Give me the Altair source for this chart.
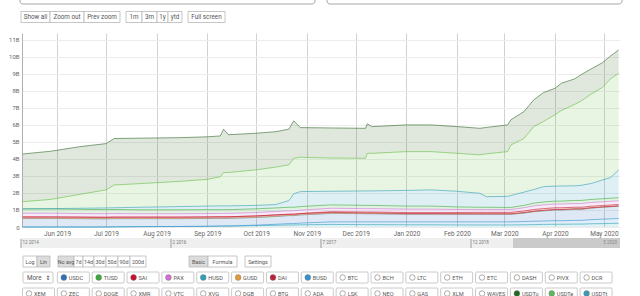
import altair as alt
import pandas as pd

# ---------------- data (billions USD) ----------------
dates = ["2019-05-11", "2019-05-28", "2019-06-15", "2019-07-01", "2019-07-06", "2019-07-22",
         "2019-08-15", "2019-09-01", "2019-09-09", "2019-09-11", "2019-09-14", "2019-10-01",
         "2019-10-13", "2019-10-21", "2019-10-24", "2019-10-28", "2019-11-16", "2019-12-07",
         "2019-12-08", "2019-12-11", "2020-01-01", "2020-01-16", "2020-02-01", "2020-02-15",
         "2020-02-19", "2020-03-03", "2020-03-05", "2020-03-13", "2020-03-19", "2020-03-25",
         "2020-04-01", "2020-04-05", "2020-04-13", "2020-04-17", "2020-04-23", "2020-04-30",
         "2020-05-05", "2020-05-10"]

HUSD = [0, 0, 0, 0, 0.01, 0.02, 0.03, 0.04, 0.05, 0.05, 0.05, 0.08, 0.10, 0.12, 0.12, 0.13,
        0.15, 0.14, 0.14, 0.14, 0.13, 0.13, 0.12, 0.12, 0.12, 0.12, 0.12, 0.13, 0.14, 0.15,
        0.16, 0.16, 0.17, 0.17, 0.19, 0.20, 0.21, 0.22]
BUSD = [0, 0, 0, 0, 0, 0, 0, 0, 0.01, 0.01, 0.01, 0.03, 0.06, 0.08, 0.08, 0.10,
        0.15, 0.16, 0.16, 0.16, 0.17, 0.17, 0.18, 0.18, 0.18, 0.18, 0.18, 0.19, 0.20, 0.20,
        0.21, 0.21, 0.22, 0.22, 0.24, 0.26, 0.27, 0.28]
USDC = [0.50, 0.50, 0.49, 0.48, 0.48, 0.47, 0.46, 0.46, 0.45, 0.45, 0.45, 0.45, 0.46, 0.47, 0.47, 0.48,
        0.50, 0.48, 0.48, 0.48, 0.45, 0.45, 0.45, 0.45, 0.45, 0.45, 0.45, 0.50, 0.56, 0.60,
        0.63, 0.63, 0.65, 0.65, 0.68, 0.70, 0.71, 0.72]
GUSD = [0.01] * 38
SAI = [0.08, 0.08, 0.08, 0.08, 0.08, 0.08, 0.08, 0.08, 0.08, 0.08, 0.08, 0.08, 0.08, 0.07, 0.07, 0.07,
       0.05, 0.04, 0.04, 0.04, 0.03, 0.03, 0.02, 0.02, 0.02, 0.02, 0.02, 0.02, 0.02, 0.02,
       0.02, 0.02, 0.02, 0.02, 0.01, 0.01, 0.01, 0.01]
DAI = [0, 0, 0, 0, 0, 0, 0, 0, 0, 0, 0, 0, 0, 0, 0, 0,
       0.04, 0.05, 0.05, 0.05, 0.06, 0.06, 0.07, 0.08, 0.08, 0.08, 0.08, 0.09, 0.10, 0.10,
       0.10, 0.10, 0.09, 0.09, 0.09, 0.08, 0.08, 0.08]
PAX = [0.22, 0.22, 0.21, 0.21, 0.21, 0.20, 0.20, 0.20, 0.20, 0.20, 0.20, 0.20, 0.20, 0.20, 0.20, 0.20,
       0.20, 0.20, 0.20, 0.20, 0.20, 0.20, 0.18, 0.17, 0.17, 0.17, 0.17, 0.19, 0.21, 0.22,
       0.22, 0.22, 0.22, 0.22, 0.22, 0.22, 0.22, 0.22]
TUSD = [0.25, 0.25, 0.25, 0.24, 0.24, 0.23, 0.23, 0.23, 0.22, 0.22, 0.22, 0.22, 0.21, 0.21, 0.21, 0.21,
        0.20, 0.19, 0.19, 0.19, 0.18, 0.18, 0.15, 0.13, 0.13, 0.12, 0.12, 0.14, 0.16, 0.17,
        0.17, 0.17, 0.18, 0.18, 0.18, 0.18, 0.18, 0.18]
USDTt = [0.01, 0.02, 0.06, 0.10, 0.10, 0.15, 0.19, 0.21, 0.22, 0.22, 0.22, 0.20, 0.20, 0.39, 0.79, 0.88,
         0.80, 0.85, 0.85, 0.85, 0.92, 0.95, 0.92, 0.82, 0.62, 0.65, 0.70, 0.78, 0.80, 0.90,
         0.88, 0.89, 0.86, 0.89, 0.93, 1.10, 1.21, 1.63]
USDTe = [0.42, 0.54, 0.82, 1.06, 1.34, 1.39, 1.48, 1.57, 1.71, 1.96, 1.96, 2.09, 2.20, 2.10, 2.09, 2.02,
         1.95, 1.92, 2.21, 2.21, 2.28, 2.25, 2.23, 2.26, 2.52, 2.63, 2.97, 3.15, 3.70, 3.83,
         4.20, 4.44, 4.78, 4.95, 5.25, 5.44, 5.80, 5.69]
USDTo = [2.80, 2.83, 2.80, 2.72, 2.73, 2.67, 2.57, 2.50, 2.40, 2.55, 2.22, 2.15, 2.08, 2.10, 2.20, 1.74,
         1.77, 1.76, 1.73, 1.57, 1.57, 1.57, 1.57, 1.56, 1.55, 1.57, 1.48, 1.58, 1.57, 1.70,
         1.55, 1.60, 1.50, 1.55, 1.48, 1.45, 1.35, 1.36]

series = ["HUSD", "BUSD", "USDC", "GUSD", "SAI", "DAI", "PAX", "TUSD", "USDTt", "USDTe", "USDTo"]
series_values = [HUSD, BUSD, USDC, GUSD, SAI, DAI, PAX, TUSD, USDTt, USDTe, USDTo]
series_colors = ["#33a6b8", "#3b95d1", "#3a78c3", "#e3a24a", "#cc2233", "#c8283c", "#d07ad8",
                 "#44ad44", "#3ba3b8", "#6abf4b", "#3c6e34"]

y_ticks = list(range(0, 12))

# UI texts
top_buttons = [["Show all", "Zoom out", "Prev zoom"], ["1m", "3m", "1y", "ytd"], ["Full screen"]]
bottom_buttons = [["Log", "Lin"], ["No avg", "7d", "14d", "30d", "50d", "90d", "200d"],
                  ["Basic", "Formula"], ["Settings"]]
selected_buttons = {"Lin", "No avg", "Basic"}
coins_row1 = ["USDC", "TUSD", "SAI", "PAX", "HUSD", "GUSD", "DAI", "BUSD", "BTC", "BCH", "LTC",
              "ETH", "ETC", "DASH", "PIVX", "DCR"]
coins_row2 = ["XEM", "ZEC", "DOGE", "XMR", "VTC", "XVG", "DGB", "BTG", "ADA", "LSK", "NEO", "GAS",
              "XLM", "WAVES", "USDTo", "USDTe", "USDTt"]
coin_colors = {"USDC": "#2f6fb8", "TUSD": "#3aa83a", "SAI": "#c8102e", "PAX": "#cf6fd6",
               "HUSD": "#2f9fb5", "GUSD": "#e09a3c", "DAI": "#c0203a", "BUSD": "#3592cf",
               "USDTo": "#1f6a1f", "USDTe": "#5cb85c", "USDTt": "#3a9bb5"}
nav_labels = ["12 2014", "2 2016", "7 2017", "12 2018"]

# ---------------- layout ----------------
OX, OY = 22, 33          # plot origin on the page
W, H = 598, 194          # plot area
FONT = "Roboto"
TXT = "#555555"

rows = []
for i, (s, vals) in enumerate(zip(series, series_values)):
    for d, v in zip(dates, vals):
        rows.append({"date": d, "series": s, "value": v, "ord": i})
df = pd.DataFrame(rows)

main = alt.Chart(df).mark_area(
    fillOpacity=0.16, interpolate="linear",
    line={"strokeWidth": 0.9, "strokeOpacity": 0.7}
).encode(
    x=alt.X("date:T",
            scale=alt.Scale(domain=["2019-05-10T13:00:00", "2020-05-10T20:00:00"]),
            axis=alt.Axis(format="%b %Y", tickCount={"interval": "month", "step": 1},
                          ticks=False, domain=False, grid=True, gridColor="#d2d2d2",
                          labelFontSize=6.5, labelColor="#666", labelPadding=3,
                          labelFont=FONT, title=None)),
    y=alt.Y("value:Q", stack="zero",
            scale=alt.Scale(domain=[0, 11.4], nice=False, zero=True),
            axis=alt.Axis(values=y_ticks,
                          labelExpr="datum.value == 0 ? '0' : datum.value + 'B'",
                          ticks=False, domain=True, domainColor="#b0b0b0",
                          gridColor="#ececec", labelFontSize=6, labelColor="#666",
                          labelPadding=3, labelFont=FONT, title=None)),
    color=alt.Color("series:N", scale=alt.Scale(domain=series, range=series_colors), legend=None),
    order=alt.Order("ord:Q"),
)


def button_rows(groups, starts, widths, y0, y1):
    out = []
    for grp, start, ws in zip(groups, starts, widths):
        x = start
        for label, w in zip(grp, ws):
            out.append(dict(x0=x - OX, x1=x + w - OX, y0=y0 - OY, y1=y1 - OY,
                            xc=x + w / 2 - OX, yc=(y0 + y1) / 2 - OY, label=label,
                            fill="#dcdcdc" if label in selected_buttons else "#ffffff"))
            x += w
    return out


top_df = pd.DataFrame(button_rows(top_buttons, [21, 126, 188],
                                  [[29, 34, 36], [16, 15, 11, 14], [37]], 11.5, 22.5))
bot_df = pd.DataFrame(button_rows(bottom_buttons, [23, 58, 189, 245],
                                  [[14, 13], [16, 9, 11, 12, 12, 12, 16], [19, 29], [26]], 256, 267))
btn_df = pd.concat([top_df, bot_df])

btn_rect = alt.Chart(btn_df).mark_rect(stroke="#b8b8b8", strokeWidth=0.8).encode(
    x=alt.X("x0:Q", scale=None), x2="x1",
    y=alt.Y("y0:Q", scale=None), y2="y1",
    fill=alt.Fill("fill:N", scale=None))
btn_text_top = alt.Chart(top_df).mark_text(fontSize=6.3, color=TXT, font=FONT, baseline="middle").encode(
    x=alt.X("xc:Q", scale=None), y=alt.Y("yc:Q", scale=None), text="label:N")
btn_text_bot = alt.Chart(bot_df).mark_text(fontSize=5.4, color=TXT, font=FONT, baseline="middle").encode(
    x=alt.X("xc:Q", scale=None), y=alt.Y("yc:Q", scale=None), text="label:N")

# checkbox grid
PITCH, BW = 34.85, 32
cells = []
for r, (coins, yy) in enumerate([(coins_row1, 272), (coins_row2, 288)]):
    start_col = 1 if r == 0 else 0
    for k, c in enumerate(coins):
        x0 = 22.5 + (k + start_col) * PITCH
        cells.append(dict(x0=x0 - OX, x1=x0 + BW - OX, y0=yy - OY, y1=yy + 11 - OY,
                          cx=x0 + 6.5 - OX, tx=x0 + 11.5 - OX, yc=yy + 5.5 - OY, label=c,
                          col=coin_colors.get(c, "#ffffff"),
                          sel=c in coin_colors))
cells_df = pd.DataFrame(cells)
more_df = pd.DataFrame([dict(x0=23 - OX, x1=53 - OX, y0=272 - OY, y1=283 - OY,
                             tx=27 - OX, ax=48 - OX, yc=277.5 - OY, label="More", arrow="\u21d5")])

cell_rect = alt.Chart(pd.concat([cells_df[["x0", "x1", "y0", "y1"]], more_df[["x0", "x1", "y0", "y1"]]])
                      ).mark_rect(fill="#ffffff", stroke="#bdbdbd", strokeWidth=0.8, cornerRadius=1).encode(
    x=alt.X("x0:Q", scale=None), x2="x1", y=alt.Y("y0:Q", scale=None), y2="y1")
cell_dot_on = alt.Chart(cells_df[cells_df.sel]).mark_point(filled=True, size=34, opacity=1,
                                                          stroke="#777", strokeWidth=0.4).encode(
    x=alt.X("cx:Q", scale=None), y=alt.Y("yc:Q", scale=None),
    fill=alt.Fill("col:N", scale=None))
cell_dot_off = alt.Chart(cells_df[~cells_df.sel]).mark_point(filled=False, size=30, stroke="#888",
                                                            strokeWidth=0.7, opacity=1).encode(
    x=alt.X("cx:Q", scale=None), y=alt.Y("yc:Q", scale=None))
cell_text = alt.Chart(cells_df).mark_text(fontSize=5.6, color=TXT, font=FONT, align="left",
                                          baseline="middle").encode(
    x=alt.X("tx:Q", scale=None), y=alt.Y("yc:Q", scale=None), text="label:N")
more_text = alt.Chart(more_df).mark_text(fontSize=6.3, color=TXT, font=FONT, align="left",
                                         baseline="middle").encode(
    x=alt.X("tx:Q", scale=None), y=alt.Y("yc:Q", scale=None), text="label:N")
more_arrow = alt.Chart(more_df).mark_text(fontSize=6, color="#444", font="DejaVu Sans",
                                          baseline="middle").encode(
    x=alt.X("ax:Q", scale=None), y=alt.Y("yc:Q", scale=None), text="arrow:N")

# navigator
nav_df = pd.DataFrame([dict(x0=21 - OX, x1=620 - OX, y0=238 - OY, y1=248 - OY, fill="#efefef"),
                       dict(x0=513 - OX, x1=620 - OX, y0=238 - OY, y1=248 - OY, fill="#cacaca")])
nav_rect = alt.Chart(nav_df).mark_rect().encode(
    x=alt.X("x0:Q", scale=None), x2="x1", y=alt.Y("y0:Q", scale=None), y2="y1",
    fill=alt.Fill("fill:N", scale=None))
nav_tick_df = pd.DataFrame([dict(x=xx - OX, y0=239 - OY, y1=248 - OY, tx=xx + 1.5 - OX,
                                 ty=243 - OY, label=l)
                            for xx, l in zip([21, 171, 321, 471], nav_labels)])
nav_ticks = alt.Chart(nav_tick_df).mark_rule(color="#888", strokeWidth=0.8).encode(
    x=alt.X("x:Q", scale=None), y=alt.Y("y0:Q", scale=None), y2="y1")
nav_text = alt.Chart(nav_tick_df).mark_text(fontSize=4.5, color="#777", font=FONT, align="left",
                                            baseline="middle").encode(
    x=alt.X("tx:Q", scale=None), y=alt.Y("ty:Q", scale=None), text="label:N")
nav_end = alt.Chart(pd.DataFrame([dict(x=617 - OX, y=243 - OY, label="5 2020")])).mark_text(
    fontSize=4.5, color="#888", font=FONT, align="right", baseline="middle").encode(
    x=alt.X("x:Q", scale=None), y=alt.Y("y:Q", scale=None), text="label:N")

# top input boxes (only their bottoms are visible)
inp_df = pd.DataFrame([dict(x0=20 - OX, x1=315 - OX, y0=-20 - OY, y1=4 - OY),
                       dict(x0=327 - OX, x1=622 - OX, y0=-20 - OY, y1=4 - OY)])
top_boxes = alt.Chart(inp_df).mark_rect(fill="#ffffff", stroke="#a8a8a8", strokeWidth=1,
                                        cornerRadius=3).encode(
    x=alt.X("x0:Q", scale=None), x2="x1", y=alt.Y("y0:Q", scale=None), y2="y1")

chart = alt.layer(
    main, top_boxes, btn_rect, btn_text_top, btn_text_bot, nav_rect, nav_ticks, nav_text, nav_end,
    cell_rect, cell_dot_on, cell_dot_off, cell_text, more_text, more_arrow
).resolve_scale(
    x="independent", y="independent", color="independent", fill="independent"
).properties(
    width=W, height=H,
    padding={"left": OX, "top": OY, "right": 640 - OX - W, "bottom": 296 - OY - H},
    autosize=alt.AutoSizeParams(type="none"),
    background="#ffffff",
).configure_view(stroke=None)

chart.save("out.html", embed_options={"renderer": "svg", "actions": False})
